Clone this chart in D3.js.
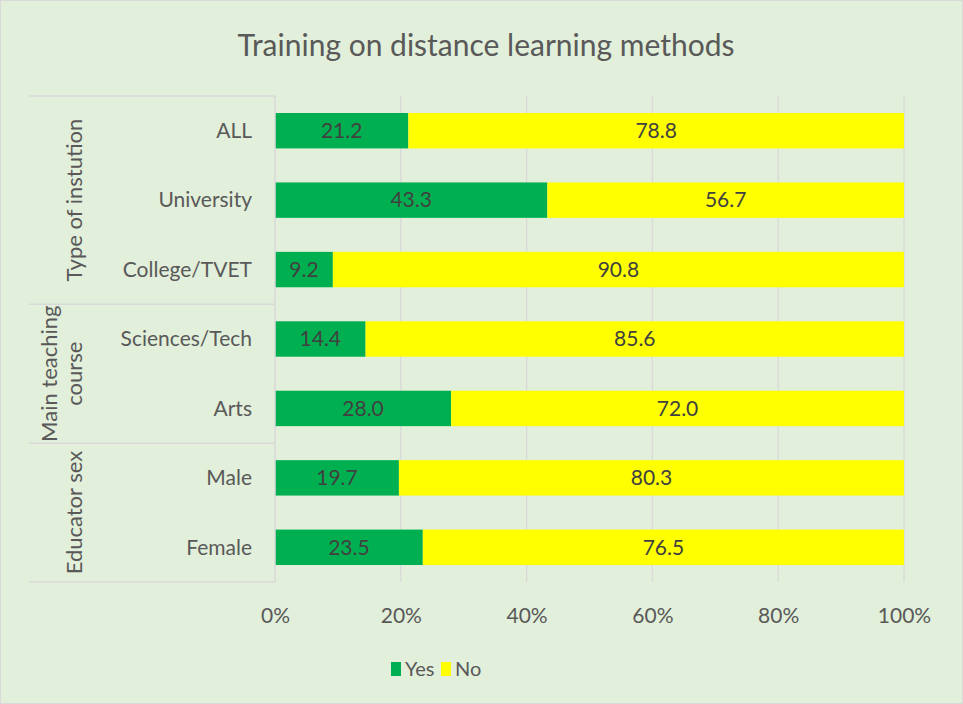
<!DOCTYPE html>
<html><head><meta charset="utf-8">
<script src="https://cdn.jsdelivr.net/npm/d3@7"></script>
<style>
html,body{margin:0;padding:0;background:#fff;}
svg text{font-family:Lato,"Open Sans",sans-serif;fill:#595959;}
</style></head>
<body>
<script>
const categories = ["ALL","University","College/TVET","Sciences/Tech","Arts","Male","Female"];
const yesValues = [21.2,43.3,9.2,14.4,28.0,19.7,23.5];
const noValues  = [78.8,56.7,90.8,85.6,72.0,80.3,76.5];
const groups = [
  {label:["Type of instution"], from:0, to:2},
  {label:["Main teaching","course"], from:3, to:4},
  {label:["Educator sex"], from:5, to:6}
];
const seriesNames = ["Yes","No"];
const seriesColors = ["#00b050","#ffff00"];
const tickValues = [0,0.2,0.4,0.6,0.8,1.0];
const title = "Training on distance learning methods";

const W=963,H=704;
const svg=d3.select("body").append("svg").attr("width",W).attr("height",H);
svg.append("rect").attr("x",0.5).attr("y",0.5).attr("width",W-1).attr("height",H-1)
  .attr("fill","#e2efda").attr("stroke","#d9d9d9");

const plot={left:275,right:904,top:96,bottom:582};
const x=d3.scaleLinear().domain([0,1]).range([plot.left,plot.right]);
const y=d3.scaleBand().domain(categories).range([plot.top,plot.bottom]).paddingInner(0.49).paddingOuter(0.245);

svg.append("text").attr("x",486).attr("y",45).attr("dy","0.35em").attr("text-anchor","middle")
  .style("font-size","30px").text(title);

// gridlines
const xAxis=d3.axisBottom(x).tickValues(tickValues).tickFormat(d3.format(".0%")).tickSize(0);
const gx=svg.append("g");
gx.selectAll("line").data(tickValues.slice(1)).join("line")
  .attr("x1",d=>x(d)).attr("x2",d=>x(d)).attr("y1",plot.top).attr("y2",plot.bottom)
  .attr("stroke","#d9d9d9").attr("stroke-width",1.3);
const ax=svg.append("g").attr("transform",`translate(0,${plot.bottom})`).call(xAxis);
ax.select(".domain").remove();
ax.selectAll("text").attr("dy","0.35em").attr("y",34).style("font-size","21px").style("fill","#595959").style("font-family","Lato");

// bars
const stacked = categories.map((c,i)=>({cat:c, yes:yesValues[i], no:noValues[i]}));
const stack=d3.stack().keys(["yes","no"]).value((d,k)=>d[k]/100);
const layers=stack(stacked);
layers.forEach((layer,li)=>{
  const g=svg.append("g");
  g.selectAll("rect").data(layer).join("rect")
    .attr("x",d=>x(d[0])).attr("width",d=>x(d[1])-x(d[0]))
    .attr("y",d=>y(d.data.cat)).attr("height",y.bandwidth())
    .attr("fill",seriesColors[li]);
  g.selectAll("text").data(layer).join("text")
    .attr("x",d=>(x(d[0])+x(d[1]))/2).attr("y",d=>y(d.data.cat)+y.bandwidth()/2)
    .attr("dy","0.35em").attr("text-anchor","middle").style("font-size","21px")
    .style("fill","#404040")
    .text(d=>(d[1]-d[0]>0?((d[1]-d[0])*100).toFixed(1):""));
});

// category axis
const axisColor="#d9d9d9";
svg.append("line").attr("x1",plot.left).attr("x2",plot.left).attr("y1",plot.top).attr("y2",plot.bottom)
  .attr("stroke",axisColor).attr("stroke-width",1.5);
svg.append("g").selectAll("text").data(categories).join("text")
  .attr("x",252).attr("y",d=>y(d)+y.bandwidth()/2).attr("dy","0.35em")
  .attr("text-anchor","end").style("font-size","21px").text(d=>d);

const bandH=(plot.bottom-plot.top)/categories.length;
const boundaries=[plot.top].concat(groups.map(g=>plot.top+(g.to+1)*bandH));
boundaries.forEach(b=>{
  svg.append("line").attr("x1",29).attr("x2",plot.left).attr("y1",b).attr("y2",b)
    .attr("stroke",axisColor).attr("stroke-width",1.5);
});
groups.forEach(g=>{
  const cy=plot.top+(g.from+g.to+1)/2*bandH;
  const n=g.label.length;
  const t=svg.append("text").attr("transform",`translate(74,${cy}) rotate(-90)`)
    .attr("text-anchor","middle").style("font-size","22px");
  g.label.forEach((l,i)=>{
    t.append("tspan").attr("x",0).attr("y",(i-(n-1))*25).attr("dy","0.35em").text(l);
  });
});

// legend
const leg=svg.append("g");
const lx=[391,441];
seriesNames.forEach((s,i)=>{
  leg.append("rect").attr("x",lx[i]).attr("y",662).attr("width",10).attr("height",14).attr("fill",seriesColors[i]);
  leg.append("text").attr("x",lx[i]+14).attr("y",669).attr("dy","0.35em").style("font-size","20px").text(s);
});
</script>
</body></html>
